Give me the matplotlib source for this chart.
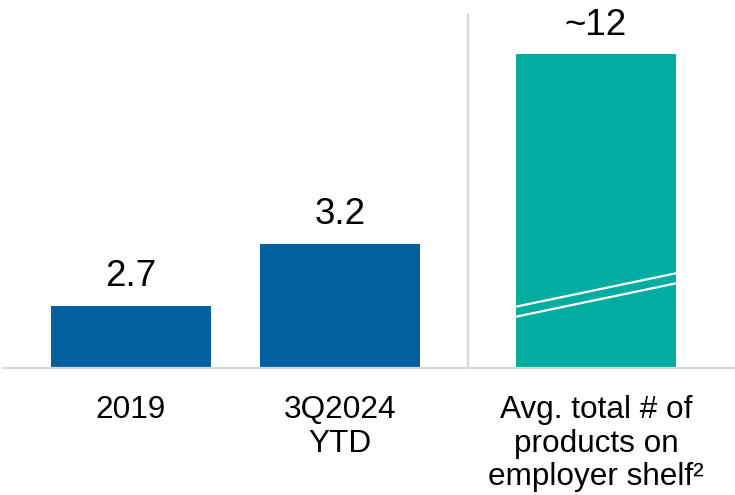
import matplotlib
matplotlib.use("Agg")
import matplotlib.pyplot as plt

plt.rcParams['font.family'] = ['Liberation Sans', 'DejaVu Sans']

# Data
categories = ["2019", "3Q2024\nYTD", "Avg. total # of\nproducts on\nemployer shelf²"]
values = [2.7, 3.2, 12]
value_labels = ["2.7", "3.2", "~12"]

# Style
x_pos = [0.0, 1.0, 2.225]
bar_width = 0.766
colors = ["#0060A0", "#0060A0", "#00ADA0"]
grey = "#D9D9D9"
y_min, y_max = 2.2, 4.73

fig = plt.figure(figsize=(7.35, 4.95), dpi=100)
ax = fig.add_axes([3 / 735, 0.2572, 732 / 735, 0.6337])

ax.bar(x_pos, values, width=bar_width, color=colors, bottom=0, zorder=2)
ax.set_xlim(-0.612, 2.89)
ax.set_ylim(y_min, y_max)

# Axis styling: only the baseline remains
for side in ("top", "left", "right"):
    ax.spines[side].set_visible(False)
ax.spines["bottom"].set_color(grey)
ax.spines["bottom"].set_linewidth(1.6)
ax.set_xticks([])
ax.set_yticks([])

# Divider between the history bars and the shelf comparison
ax.axvline(1.612, ymin=0, ymax=1.1275, color=grey, lw=1.6, clip_on=False)

# Break marks on the truncated bar
bx0 = x_pos[2] - bar_width / 2
bx1 = x_pos[2] + bar_width / 2
brk = ax.get_xaxis_transform()
ax.plot([bx0, bx1], [0.1945, 0.301], color="white", lw=1.6, transform=brk, zorder=3,
        solid_capstyle="butt")
ax.plot([bx0, bx1], [0.1626, 0.269], color="white", lw=1.6, transform=brk, zorder=3,
        solid_capstyle="butt")

# Value labels
for x, v, lab in zip(x_pos, values, value_labels):
    ax.annotate(lab, xy=(x, min(v, y_max)), xytext=(0, 14), textcoords="offset points",
                ha="center", va="baseline", fontsize=26.5, color="black",
                annotation_clip=False)

# Category labels
for x, cat in zip(x_pos, categories):
    ax.annotate(cat, xy=(x, 0), xycoords=("data", "axes fraction"),
                xytext=(0, -20), textcoords="offset points",
                ha="center", va="top", fontsize=22.7, color="black",
                linespacing=1.14, multialignment="center", annotation_clip=False)

fig.savefig("out.png", dpi=100)
